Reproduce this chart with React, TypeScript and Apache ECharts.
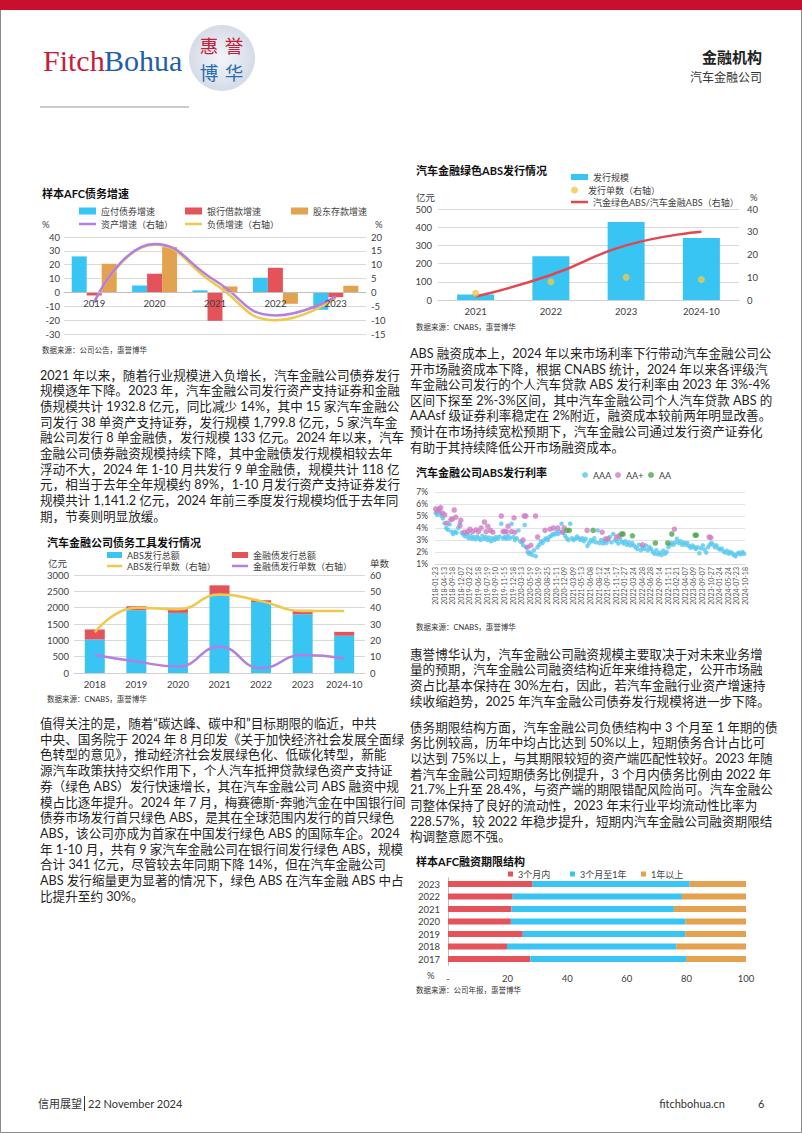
import React, { useEffect, useRef } from "react";
import * as echarts from "echarts";

const FONT = "Lato, 'Noto Sans CJK SC', sans-serif";
const CJK = "'Noto Sans CJK SC', sans-serif";
const SERIF = "'Liberation Serif', 'DejaVu Serif', serif";

const C_CYAN = "#38c5f3";
const C_RED = "#e5535a";
const C_ORANGE = "#e3a24f";
const C_PURPLE = "#b37fe0";
const C_YELLOW = "#f0c84a";
const TXT = "#1f1f1f";
const AX = "#404040";

// ---- Chart 1: 样本AFC债务增速
const c1Years = ["2019", "2020", "2021", "2022", "2023"];
const c1Bonds = [26, 5, 1.5, 10.6, -12.5];
const c1Bank = [-2.2, 13.5, -20.5, 17.8, -3.4];
const c1Shareholder = [20.7, 32.7, 4.3, -8.2, 4.8];
const c1Assets = [-3.5, 17.5, 4.3, -8.3, -1.5];
const c1Liabilities = [-3.5, 17.2, 3.0, -10, -2];
const c1LeftMin = -30;
const c1LeftMax = 40;

// ---- Chart 2: 汽车金融公司债务工具发行情况
const c2Years = ["2018", "2019", "2020", "2021", "2022", "2023", "2024-10"];
const c2Abs = [1028, 1921, 1840, 2379, 2175, 1800, 1141];
const c2Fin = [305, 123, 122, 305, 51, 133, 118];
const c2AbsCount = [25, 40, 39, 48, 44, 38, 38];
const c2FinCount = [11, 7, 4, 16, 3, 11, 9];

// ---- Chart 3: 汽车金融绿色ABS发行情况
const c3Years = ["2021", "2022", "2023", "2024-10"];
const c3Scale = [30, 240, 428, 341];
const c3Count = [3, 8, 10, 9];
const c3Share = [1.5, 11, 24, 30];

// ---- Chart 4: 汽车金融公司ABS发行利率
const c4Dates = ["2018-01-23", "2018-04-13", "2018-09-18", "2018-12-07", "2019-03-22", "2019-06-18", "2019-07-19", "2019-09-10", "2019-11-15", "2019-12-18", "2020-03-13", "2020-05-19", "2020-06-19", "2020-08-25", "2020-11-11", "2020-12-09", "2021-03-09", "2021-05-13", "2021-06-08", "2021-08-12", "2021-09-14", "2021-11-17", "2022-01-27", "2022-03-24", "2022-04-28", "2022-06-28", "2022-09-14", "2022-11-11", "2023-02-21", "2023-04-07", "2023-06-09", "2023-09-07", "2023-10-27", "2024-01-24", "2024-05-24", "2024-07-23", "2024-10-18"];
// AAA rates, grouped by the interval between two labelled dates
const c4AAA = [
  [5.25, 5.1, 5.5, 5.25, 5.0, 4.8],
  [4.4, 4.0, 3.85, 4.3, 3.7],
  [3.5, 3.7, 3.6, 4.0, 4.4],
  [3.6, 3.45, 3.3, 3.5, 3.15],
  [3.35, 3.1, 3.25, 3.05, 3.3],
  [3.15, 3.0, 3.35, 3.1, 3.25],
  [3.0, 3.2, 2.9, 3.15, 3.0],
  [3.25, 3.1, 3.3, 4.35, 3.15],
  [3.25, 3.1, 3.35, 3.15, 4.35],
  [3.25, 3.0, 3.15, 3.8, 2.9],
  [2.8, 2.55, 4.25, 2.4, 2.0, 1.85],
  [1.95, 1.75, 2.15, 1.65, 2.4],
  [2.6, 2.9, 2.75, 3.0, 3.15],
  [3.0, 3.25, 3.35, 3.5, 3.45],
  [3.65, 3.5, 3.7, 4.35, 3.6],
  [3.35, 3.15, 3.0, 4.35, 3.15],
  [3.0, 3.1, 3.3, 3.15, 3.0],
  [3.15, 2.9, 3.1, 2.5, 2.75],
  [3.0, 2.9, 3.15, 2.8, 3.8],
  [2.75, 3.0, 2.7, 2.9, 2.75],
  [3.0, 3.25, 2.8, 3.5, 3.0],
  [2.9, 2.7, 3.1, 2.85, 2.7],
  [2.9, 2.6, 2.8, 2.55, 2.75],
  [2.55, 2.4, 2.25, 2.6, 2.15],
  [2.4, 2.25, 2.55, 2.15, 2.4],
  [2.25, 2.0, 1.85, 2.15, 1.8],
  [1.95, 1.75, 2.1, 1.85, 2.0],
  [2.4, 2.6, 2.75, 2.6, 2.8],
  [3.1, 2.75, 2.9, 2.6, 2.8],
  [2.6, 2.75, 2.5, 2.35, 2.55],
  [2.4, 2.25, 2.4, 1.9, 2.3],
  [2.55, 2.2, 1.95, 2.4, 2.6],
  [2.75, 2.6, 2.4, 2.55, 2.3],
  [2.2, 2.3, 2.05, 1.95, 2.1],
  [1.85, 2.0, 1.9, 1.75, 1.65],
  [1.85, 1.95, 1.8, 2.0, 1.85],
];
// [position in label units, rate]
const c4AAplus = [
  [0.08, 5.6], [0.27, 5.4], [0.47, 5.6], [0.66, 5.7], [0.86, 5.25], [1.13, 5.1], [1.37, 4.4], [1.84, 4.7], [2.03, 4.75], [2.23, 5.5], [2.42, 4.9],
  [2.9, 4.2], [3.0, 4.65], [3.4, 3.65], [3.8, 3.7], [4.06, 3.9], [4.38, 3.7], [4.77, 3.85], [5.04, 3.7], [5.35, 4.0], [5.74, 4.5], [5.94, 3.7],
  [6.13, 4.15], [6.45, 3.8], [6.72, 3.65], [7.7, 5.0], [7.9, 3.7], [8.09, 3.7], [8.28, 3.7], [8.48, 4.15], [8.87, 3.7], [9.18, 4.85], [9.26, 3.65],
  [10.23, 3.0], [10.35, 5.0], [10.55, 5.0], [10.74, 2.4], [11.13, 2.55], [11.68, 5.0], [11.91, 3.25], [12.77, 3.8], [13.36, 3.9], [13.75, 4.0],
  [14.26, 4.0], [14.8, 3.65], [15.0, 4.0], [17.66, 3.8], [19.41, 3.65], [19.8, 3.1], [20.08, 3.1], [21.1, 3.25], [21.37, 3.35], [24.1, 2.6],
  [27.8, 3.9], [31.84, 3.25], [32.03, 3.2],
];
const c4AA = [
  [15.3, 3.8], [15.6, 3.8], [18.36, 3.8], [21.68, 3.5], [21.84, 3.5], [22.93, 3.35], [25.59, 2.75], [27.03, 2.75], [27.5, 3.5], [30.2, 3.4], [30.35, 3.4],
];

// ---- Chart 5: 样本AFC融资期限结构
const c5Years = ["2017", "2018", "2019", "2020", "2021", "2022", "2023"];
const c5Short = [27.6, 19.8, 25.1, 21.1, 21.3, 21.7, 28.4];
const c5Mid = [52.3, 56.8, 54.5, 58.5, 54.5, 56.8, 52.7];
const c5Long = [20.1, 23.4, 20.4, 20.4, 24.2, 21.5, 18.9];

// ---- Text
const para1 = [
  "2021 年以来，随着行业规模进入负增长，汽车金融公司债券发行",
  "规模逐年下降。2023 年，汽车金融公司发行资产支持证券和金融",
  "债规模共计 1932.8 亿元，同比减少 14%，其中 15 家汽车金融公",
  "司发行 38 单资产支持证券，发行规模 1,799.8 亿元，5 家汽车金",
  "融公司发行 8 单金融债，发行规模 133 亿元。2024 年以来，汽车",
  "金融公司债券融资规模持续下降，其中金融债发行规模相较去年",
  "浮动不大，2024 年 1-10 月共发行 9 单金融债，规模共计 118 亿",
  "元，相当于去年全年规模约 89%，1-10 月发行资产支持证券发行",
  "规模共计 1,141.2 亿元，2024 年前三季度发行规模均低于去年同",
  "期，节奏则明显放缓。",
];
const para2 = [
  "值得关注的是，随着“碳达峰、碳中和”目标期限的临近，中共",
  "中央、国务院于 2024 年 8 月印发《关于加快经济社会发展全面绿",
  "色转型的意见》，推动经济社会发展绿色化、低碳化转型，新能",
  "源汽车政策扶持交织作用下，个人汽车抵押贷款绿色资产支持证",
  "券（绿色 ABS）发行快速增长，其在汽车金融公司 ABS 融资中规",
  "模占比逐年提升。2024 年 7 月，梅赛德斯-奔驰汽金在中国银行间",
  "债券市场发行首只绿色 ABS，是其在全球范围内发行的首只绿色",
  "ABS，该公司亦成为首家在中国发行绿色 ABS 的国际车企。2024",
  "年 1-10 月，共有 9 家汽车金融公司在银行间发行绿色 ABS，规模",
  "合计 341 亿元，尽管较去年同期下降 14%，但在汽车金融公司",
  "ABS 发行缩量更为显著的情况下，绿色 ABS 在汽车金融 ABS 中占",
  "比提升至约 30%。",
];
const para3 = [
  "ABS 融资成本上，2024 年以来市场利率下行带动汽车金融公司公",
  "开市场融资成本下降，根据 CNABS 统计，2024 年以来各评级汽",
  "车金融公司发行的个人汽车贷款 ABS 发行利率由 2023 年 3%-4%",
  "区间下探至 2%-3%区间，其中汽车金融公司个人汽车贷款 ABS 的",
  "AAAsf 级证券利率稳定在 2%附近，融资成本较前两年明显改善。",
  "预计在市场持续宽松预期下，汽车金融公司通过发行资产证券化",
  "有助于其持续降低公开市场融资成本。",
];
const para4 = [
  "惠誉博华认为，汽车金融公司融资规模主要取决于对未来业务增",
  "量的预期，汽车金融公司融资结构近年来维持稳定，公开市场融",
  "资占比基本保持在 30%左右，因此，若汽车金融行业资产增速持",
  "续收缩趋势，2025 年汽车金融公司债券发行规模将进一步下降。",
];
const para5 = [
  "债务期限结构方面，汽车金融公司负债结构中 3 个月至 1 年期的债",
  "务比例较高，历年中均占比达到 50%以上，短期债务合计占比可",
  "以达到 75%以上，与其期限较短的资产端匹配性较好。2023 年随",
  "着汽车金融公司短期债务比例提升，3 个月内债务比例由 2022 年",
  "21.7%上升至 28.4%，与资产端的期限错配风险尚可。汽车金融公",
  "司整体保持了良好的流动性，2023 年末行业平均流动性比率为",
  "228.57%，较 2022 年稳步提升，短期内汽车金融公司融资期限结",
  "构调整意愿不强。",
];

type TOpt = { fill?: string; size?: number; family?: string; weight?: string; align?: string; lh?: number };
const T = (x: number, y: number, text: string, o: TOpt = {}) => ({
  type: "text",
  x,
  y,
  silent: true,
  style: {
    text,
    fill: o.fill ?? TXT,
    fontSize: o.size ?? 12.6,
    fontFamily: o.family ?? FONT,
    fontWeight: o.weight ?? "normal",
    align: o.align ?? "left",
    verticalAlign: "middle",
    lineHeight: o.lh ?? Math.round((o.size ?? 12.6) * 1.15),
  },
});

const paraLines = (lines: string[], x: number, y0: number, step: number) =>
  lines.map((s, i) => T(x, y0 + i * step, s));

const L = (name: string, left: number, cy: number, icon: string, w: number, h: number) => ({
  data: [name],
  left,
  top: cy - 6,
  icon,
  itemWidth: w,
  itemHeight: h,
  padding: 0,
  itemGap: 0,
  selectedMode: false,
  textStyle: { fontSize: 9, color: AX, fontFamily: FONT, lineHeight: 12 },
});

const lab = (size = 9.5) => ({ color: AX, fontSize: size, fontFamily: FONT });
const split = { show: true, lineStyle: { color: "#d9d9d9", width: 1 } };
const plain = (v: number) => String(v);

function buildOption(): any {
  const title = (x: number, y: number, s: string) => T(x, y, s, { size: 11, weight: "bold", fill: "#111" });
  const src = (x: number, y: number, s: string) => T(x, y, s, { size: 7.5, fill: "#333" });
  const small = (x: number, y: number, s: string, align = "left") => T(x, y, s, { size: 9.5, fill: AX, align });

  const graphics: any[] = [
    { type: "rect", shape: { x: 0.5, y: 0.5, width: 801, height: 1132 }, style: { fill: "none", stroke: "#8a8a8a", lineWidth: 1 }, silent: true },
    { type: "rect", shape: { x: 0, y: 0, width: 802, height: 10 }, style: { fill: "#c8102e" }, silent: true },
    T(43, 60, "Fitch", { size: 30, family: SERIF, fill: "#c41e3a" }),
    T(104, 60, "Bohua", { size: 30, family: SERIF, fill: "#1f5fa8" }),
    {
      type: "circle",
      shape: { cx: 222, cy: 58, r: 33 },
      style: {
        fill: new echarts.graphic.RadialGradient(0.5, 0.5, 0.5, [
          { offset: 0, color: "#f3f5f9" },
          { offset: 1, color: "#d5dbe7" },
        ]),
      },
      silent: true,
    },
    T(209, 44.5, "惠", { size: 18.5, family: CJK, fill: "#c41e3a", align: "center", lh: 19 }),
    T(234, 44.5, "誉", { size: 18.5, family: CJK, fill: "#c41e3a", align: "center", lh: 19 }),
    T(209, 72, "博", { size: 18.5, family: CJK, fill: "#2b6cb0", align: "center", lh: 19 }),
    T(234, 72, "华", { size: 18.5, family: CJK, fill: "#2b6cb0", align: "center", lh: 19 }),
    { type: "line", shape: { x1: 40, y1: 107, x2: 189, y2: 107 }, style: { stroke: "#9a9a9a", lineWidth: 1 }, silent: true },
    T(762, 56, "金融机构", { size: 15, weight: "bold", family: CJK, align: "right", fill: "#222" }),
    T(762, 76.5, "汽车金融公司", { size: 12, family: CJK, align: "right", fill: "#333" }),

    // footer
    T(38, 1103, "信用展望", { size: 11, family: CJK, fill: "#333" }),
    { type: "line", shape: { x1: 84.5, y1: 1096, x2: 84.5, y2: 1111 }, style: { stroke: "#333", lineWidth: 1 }, silent: true },
    T(88, 1103, "22 November 2024", { size: 11, fill: "#333" }),
    T(725, 1103, "fitchbohua.cn", { size: 11, fill: "#333", align: "right" }),
    T(758, 1103, "6", { size: 11, fill: "#333" }),

    // chart 1
    title(42, 193, "样本AFC债务增速"),
    small(42, 224, "%"),
    small(375, 224, "%"),
    src(42, 350, "数据来源：公司公告，惠誉博华"),
    // chart 2
    title(47, 542, "汽车金融公司债务工具发行情况"),
    small(48, 563, "亿元"),
    small(370, 563, "单数"),
    src(47, 699, "数据来源：CNABS，惠誉博华"),
    // chart 3
    title(416, 170, "汽车金融绿色ABS发行情况"),
    small(416, 197, "亿元"),
    small(750, 197, "%"),
    src(416, 327, "数据来源：CNABS，惠誉博华"),
    // chart 4
    title(416, 472, "汽车金融公司ABS发行利率"),
    src(416, 627, "数据来源：CNABS，惠誉博华"),
    // chart 5
    title(416, 861, "样本AFC融资期限结构"),
    small(427, 975, "%"),
    src(416, 990, "数据来源：公司年报，惠誉博华"),

    ...paraLines(para1, 40, 375, 15.7),
    ...paraLines(para2, 40, 723.5, 15.7),
    ...paraLines(para3, 410, 353.5, 15.6),
    ...paraLines(para4, 410, 654, 15.9),
    ...paraLines(para5, 410, 727, 15.7),
  ];

  const aaaData = c4AAA.flatMap((g, i) => g.map((v, j) => [i + (j + 0.5) / g.length, v]));

  // chart 1: place the category axis at the zero line of the left axis
  const g1Height = 97;
  const c1ZeroOffset = -(g1Height * (0 - c1LeftMin)) / (c1LeftMax - c1LeftMin);

  return {
    animation: false,
    textStyle: { fontFamily: FONT },
    grid: [
      { left: 64, top: 237, width: 302, height: g1Height },
      { left: 74, top: 575, width: 291, height: 98 },
      { left: 438, top: 209, width: 301, height: 91 },
      { left: 435, top: 492, width: 310, height: 72 },
      { left: 448, top: 877.75, width: 298, height: 87.5 },
    ],
    xAxis: [
      {
        gridIndex: 0, type: "category", data: c1Years, z: 5, position: "bottom", offset: c1ZeroOffset,
        axisLine: { onZero: false, lineStyle: { color: "#bfbfbf" } },
        axisTick: { show: false }, axisLabel: { ...lab(9.5), margin: 6, interval: 0 },
      },
      {
        gridIndex: 1, type: "category", data: c2Years,
        axisLine: { lineStyle: { color: "#d0d0d0" } }, axisTick: { show: false }, axisLabel: { ...lab(9.5), margin: 7, interval: 0 },
      },
      {
        gridIndex: 2, type: "category", data: c3Years,
        axisLine: { lineStyle: { color: "#d0d0d0" } }, axisTick: { show: false }, axisLabel: { ...lab(9.5), margin: 7, interval: 0 },
      },
      {
        gridIndex: 3, type: "value", min: 0, max: c4Dates.length - 1, interval: 1,
        axisLine: { show: true, lineStyle: { color: "#d9d9d9" } }, axisTick: { show: false }, splitLine: { show: false },
        axisLabel: { ...lab(7), color: "#595959", rotate: 90, margin: 3, formatter: (v: number) => c4Dates[Math.round(v)] ?? "" },
      },
      {
        gridIndex: 4, type: "value", min: 0, max: 100, interval: 20,
        axisLine: { show: false }, axisTick: { show: false }, splitLine: { show: false },
        axisLabel: { ...lab(9.5), margin: 8, formatter: (v: number) => (v === 0 ? "-" : String(v)) },
      },
    ],
    yAxis: [
      { gridIndex: 0, type: "value", min: c1LeftMin, max: c1LeftMax, interval: 10, axisLabel: { ...lab(), margin: 4 }, splitLine: split, axisLine: { show: false }, axisTick: { show: false } },
      { gridIndex: 0, type: "value", position: "right", min: -15, max: 20, interval: 5, axisLabel: { ...lab(), margin: 5 }, splitLine: { show: false }, axisLine: { show: false }, axisTick: { show: false } },
      { gridIndex: 1, type: "value", min: 0, max: 3000, interval: 500, axisLabel: { ...lab(), margin: 5, formatter: plain }, splitLine: split, axisLine: { show: false }, axisTick: { show: false } },
      { gridIndex: 1, type: "value", position: "right", min: 0, max: 60, interval: 10, axisLabel: { ...lab(), margin: 5 }, splitLine: { show: false }, axisLine: { show: false }, axisTick: { show: false } },
      { gridIndex: 2, type: "value", min: 0, max: 500, interval: 100, axisLabel: { ...lab(), margin: 6 }, splitLine: split, axisLine: { show: false }, axisTick: { show: false } },
      { gridIndex: 2, type: "value", position: "right", min: 0, max: 40, interval: 10, axisLabel: { ...lab(), margin: 8 }, splitLine: { show: false }, axisLine: { show: false }, axisTick: { show: false } },
      { gridIndex: 3, type: "value", min: 1, max: 7, interval: 1, axisLabel: { ...lab(8.5), margin: 7, formatter: "{value}%" }, splitLine: { show: true, lineStyle: { color: "#e3e3e3" } }, axisLine: { show: false }, axisTick: { show: false } },
      { gridIndex: 4, type: "category", data: c5Years, axisLabel: { ...lab(9.5), margin: 8, interval: 0 }, axisLine: { show: true, lineStyle: { color: "#bfbfbf" } }, axisTick: { show: false }, splitLine: { show: false } },
    ],
    legend: [
      L("应付债券增速", 79, 211, "rect", 17, 7),
      L("银行借款增速", 185, 211, "rect", 17, 7),
      L("股东存款增速", 291, 211, "rect", 17, 7),
      L("资产增速（右轴）", 79, 224, "rect", 17, 2.5),
      L("负债增速（右轴）", 185, 224, "rect", 17, 2.5),
      L("ABS发行总额", 107, 555, "rect", 15, 6),
      L("金融债发行总额", 232, 555, "rect", 16, 6),
      L("ABS发行单数（右轴）", 107, 566, "rect", 15, 2.5),
      L("金融债发行单数（右轴）", 232, 566, "rect", 16, 2.5),
      L("发行规模", 571, 177, "rect", 17, 6),
      L("发行单数（右轴）", 571, 190, "circle", 17, 7),
      L("汽金绿色ABS/汽车金融ABS（右轴）", 571, 202, "rect", 17, 2.5),
      L("AAA", 582, 475, "circle", 6, 6),
      L("AA+", 615, 475, "circle", 6, 6),
      L("AA", 648, 475, "circle", 6, 6),
      L("3个月内", 508, 874, "rect", 5, 5),
      L("3个月至1年", 570, 874, "rect", 5, 5),
      L("1年以上", 641, 874, "rect", 5, 5),
    ],
    series: [
      // chart 1
      { name: "应付债券增速", type: "bar", xAxisIndex: 0, yAxisIndex: 0, data: c1Bonds, barWidth: 15, barGap: "0%", itemStyle: { color: C_CYAN } },
      { name: "银行借款增速", type: "bar", xAxisIndex: 0, yAxisIndex: 0, data: c1Bank, barWidth: 15, barGap: "0%", itemStyle: { color: C_RED } },
      { name: "股东存款增速", type: "bar", xAxisIndex: 0, yAxisIndex: 0, data: c1Shareholder, barWidth: 15, barGap: "0%", itemStyle: { color: C_ORANGE } },
      { name: "资产增速（右轴）", type: "line", xAxisIndex: 0, yAxisIndex: 1, data: c1Assets, smooth: true, symbol: "none", lineStyle: { color: C_PURPLE, width: 2.5 }, itemStyle: { color: C_PURPLE }, z: 4 },
      { name: "负债增速（右轴）", type: "line", xAxisIndex: 0, yAxisIndex: 1, data: c1Liabilities, smooth: true, symbol: "none", lineStyle: { color: C_YELLOW, width: 2.5 }, itemStyle: { color: C_YELLOW }, z: 3 },
      // chart 2
      { name: "ABS发行总额", type: "bar", xAxisIndex: 1, yAxisIndex: 2, stack: "c2", data: c2Abs, barWidth: 20, itemStyle: { color: C_CYAN } },
      { name: "金融债发行总额", type: "bar", xAxisIndex: 1, yAxisIndex: 2, stack: "c2", data: c2Fin, barWidth: 20, itemStyle: { color: C_RED } },
      { name: "ABS发行单数（右轴）", type: "line", xAxisIndex: 1, yAxisIndex: 3, data: c2AbsCount, smooth: true, symbol: "none", lineStyle: { color: C_YELLOW, width: 2.5 }, itemStyle: { color: C_YELLOW } },
      { name: "金融债发行单数（右轴）", type: "line", xAxisIndex: 1, yAxisIndex: 3, data: c2FinCount, smooth: true, symbol: "none", lineStyle: { color: C_PURPLE, width: 2.5 }, itemStyle: { color: C_PURPLE } },
      // chart 3
      { name: "发行规模", type: "bar", xAxisIndex: 2, yAxisIndex: 4, data: c3Scale, barWidth: 37, itemStyle: { color: C_CYAN } },
      { name: "发行单数（右轴）", type: "scatter", xAxisIndex: 2, yAxisIndex: 5, data: c3Count, symbolSize: 7, itemStyle: { color: C_YELLOW }, z: 4 },
      { name: "汽金绿色ABS/汽车金融ABS（右轴）", type: "line", xAxisIndex: 2, yAxisIndex: 5, data: c3Share, smooth: true, symbol: "none", lineStyle: { color: "#e0474f", width: 2.5 }, itemStyle: { color: "#e0474f" }, z: 3 },
      // chart 4
      { name: "AAA", type: "scatter", xAxisIndex: 3, yAxisIndex: 6, data: aaaData, symbolSize: 4.5, itemStyle: { color: "#55c8ee" } },
      { name: "AA+", type: "scatter", xAxisIndex: 3, yAxisIndex: 6, data: c4AAplus, symbolSize: 5.5, itemStyle: { color: "#d17cc6" } },
      { name: "AA", type: "scatter", xAxisIndex: 3, yAxisIndex: 6, data: c4AA, symbolSize: 5.5, itemStyle: { color: "#4fa64f" } },
      // chart 5
      { name: "3个月内", type: "bar", xAxisIndex: 4, yAxisIndex: 7, stack: "c5", data: c5Short, barWidth: 6, itemStyle: { color: C_RED } },
      { name: "3个月至1年", type: "bar", xAxisIndex: 4, yAxisIndex: 7, stack: "c5", data: c5Mid, barWidth: 6, itemStyle: { color: C_CYAN } },
      { name: "1年以上", type: "bar", xAxisIndex: 4, yAxisIndex: 7, stack: "c5", data: c5Long, barWidth: 6, itemStyle: { color: C_ORANGE } },
    ],
    graphic: { elements: graphics },
  };
}

export default function App() {
  const ref = useRef<HTMLDivElement>(null);
  useEffect(() => {
    if (!ref.current) return;
    const chart = echarts.init(ref.current, null, { renderer: "svg" });
    chart.setOption(buildOption());
    return () => chart.dispose();
  }, []);
  return (
    <div
      ref={ref}
      style={{ position: "absolute", left: 0, top: 0, width: 802, height: 1133, background: "#fff" }}
    />
  );
}
